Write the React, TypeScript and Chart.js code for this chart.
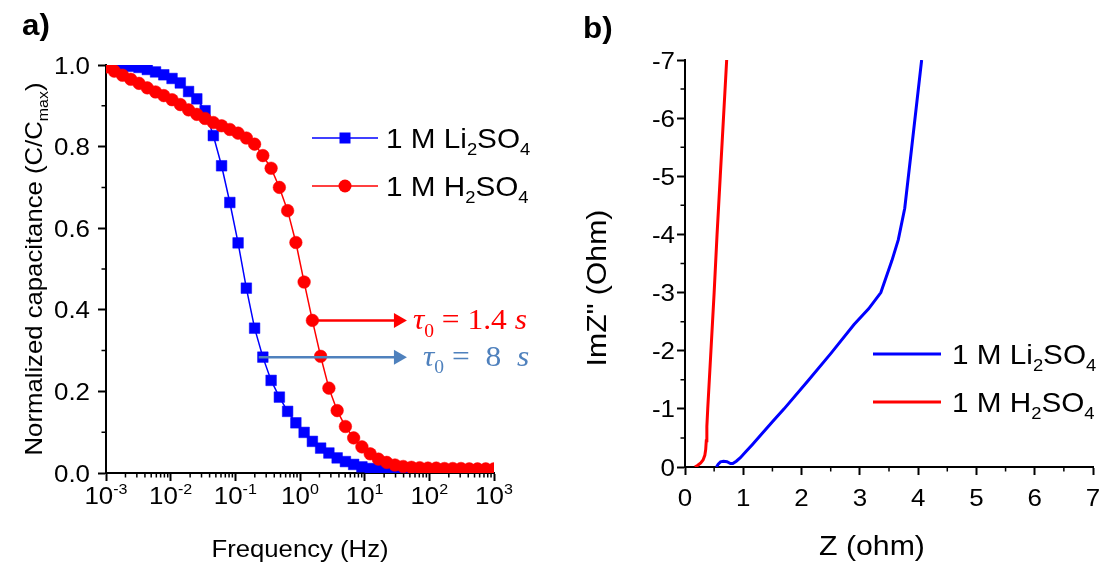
import React, { useEffect, useRef } from 'react';
import { Chart, registerables } from 'chart.js';

Chart.register(...registerables);

// ---------- Data (panel a) ----------
const freqHz = [0.001, 0.001342, 0.0018, 0.002415, 0.003241, 0.004348, 0.005834, 0.007828, 0.0105, 0.01409, 0.01891, 0.02537, 0.03404, 0.04567, 0.06128, 0.08222, 0.1103, 0.148, 0.1986, 0.2664, 0.3575, 0.4796, 0.6435, 0.8635, 1.158, 1.554, 2.085, 2.798, 3.754, 5.037, 6.758, 9.068, 12.17, 16.33, 21.9, 29.39, 39.43, 52.91, 70.99, 95.25, 127.8, 171.5, 230.1, 308.7, 414.2, 555.8, 745.7, 1000];
const capLi2SO4 = [1.0, 0.999, 0.998, 0.997, 0.994, 0.989, 0.983, 0.976, 0.967, 0.956, 0.935, 0.917, 0.888, 0.827, 0.753, 0.663, 0.564, 0.453, 0.355, 0.284, 0.227, 0.186, 0.151, 0.123, 0.0995, 0.0775, 0.061, 0.049, 0.037, 0.028, 0.021, 0.015, 0.011, 0.008, 0.006, 0.005, 0.004, 0.004, 0.003, 0.003, 0.003, 0.003, 0.003, 0.003, 0.003, 0.003, 0.003, 0.003];
const capH2SO4 = [0.995, 0.985, 0.975, 0.965, 0.955, 0.944, 0.934, 0.925, 0.915, 0.903, 0.89, 0.879, 0.869, 0.859, 0.851, 0.842, 0.833, 0.821, 0.806, 0.778, 0.747, 0.70, 0.643, 0.565, 0.468, 0.374, 0.286, 0.208, 0.153, 0.114, 0.086, 0.064, 0.047, 0.034, 0.026, 0.0196, 0.016, 0.014, 0.013, 0.012, 0.012, 0.011, 0.011, 0.011, 0.01, 0.01, 0.01, 0.01];
const freqDecades = [1e-3, 1e-2, 1e-1, 1e0, 1e1, 1e2, 1e3];
const freqDecadeExp = ['-3', '-2', '-1', '0', '1', '2', '3'];
const capTicks = [0, 0.2, 0.4, 0.6, 0.8, 1.0];
const capTickLabels = ['0.0', '0.2', '0.4', '0.6', '0.8', '1.0'];
const capMinor = [0.1, 0.3, 0.5, 0.7, 0.9];
// annotation anchors (data space)
const tauH = { fromF: 1.554, fromY: 0.374, toF: 45, textF: 55.8, text: ' = 1.4 ' };
const tauLi = { fromF: 0.23, fromY: 0.284, toF: 45, textF: 79.8, text: ' =  8  ' };

// ---------- Data (panel b) ----------
const reZLi = [0.54, 0.57, 0.61, 0.66, 0.72, 0.78, 0.82, 0.88, 0.95, 1.05, 1.15, 1.3, 1.5, 1.7, 2.1, 2.5, 2.9, 3.15, 3.36, 3.55, 3.66, 3.77, 3.89, 4.06];
const imZLi = [0, -0.05, -0.09, -0.1, -0.09, -0.06, -0.06, -0.1, -0.16, -0.27, -0.38, -0.55, -0.78, -1.0, -1.47, -1.95, -2.45, -2.72, -3.0, -3.55, -3.91, -4.45, -5.5, -7.0];
const reZH = [0.17, 0.22, 0.27, 0.31, 0.34, 0.355, 0.365, 0.375, 0.39, 0.445, 0.5, 0.55, 0.605, 0.66, 0.715];
const imZH = [0, -0.03, -0.07, -0.12, -0.2, -0.3, -0.45, -0.7, -1.0, -2.0, -3.0, -4.0, -5.0, -6.0, -7.0];
const zTicks = [0, 1, 2, 3, 4, 5, 6, 7];
const imTicks = [0, -1, -2, -3, -4, -5, -6, -7];
const zMinor = [0.5, 1.5, 2.5, 3.5, 4.5, 5.5, 6.5];
const imMinor = [-0.5, -1.5, -2.5, -3.5, -4.5, -5.5, -6.5];

const BLUE = '#0000FF';
const RED = '#FF0000';
const TAU_BLUE = '#4F81BD';
const SANS = '"Liberation Sans", Arial, sans-serif';
const SERIF = '"Liberation Serif", "DejaVu Serif", serif';
const STRETCH = 1.08;

type Seg = { t: string; sub?: boolean; sup?: boolean; italic?: boolean };
type RichOpts = { size: number; family?: string; bold?: boolean; color?: string; align?: 'left' | 'center' | 'right'; stretch?: number; rotate?: number };

function drawRich(ctx: CanvasRenderingContext2D, segs: Seg[], x: number, y: number, o: RichOpts) {
  const fam = o.family ?? SANS;
  const st = o.stretch ?? STRETCH;
  ctx.save();
  ctx.translate(x, y);
  if (o.rotate) ctx.rotate(o.rotate);
  ctx.scale(st, 1);
  ctx.textBaseline = 'alphabetic';
  ctx.textAlign = 'left';
  ctx.fillStyle = o.color ?? '#000';
  const parts = segs.map((s) => {
    const small = s.sub || s.sup;
    const sz = small ? o.size * 0.62 : o.size;
    const font = `${s.italic ? 'italic ' : ''}${o.bold ? 'bold ' : ''}${sz}px ${fam}`;
    ctx.font = font;
    return { s, font, w: ctx.measureText(s.t).width, dy: s.sub ? o.size * 0.24 : s.sup ? -o.size * 0.42 : 0 };
  });
  const total = parts.reduce((a, p) => a + p.w, 0);
  let cx = o.align === 'center' ? -total / 2 : o.align === 'right' ? -total : 0;
  for (const p of parts) {
    ctx.font = p.font;
    ctx.fillText(p.s.t, cx, p.dy);
    cx += p.w;
  }
  ctx.restore();
}

function drawArrow(ctx: CanvasRenderingContext2D, x0: number, x1: number, y: number, color: string) {
  ctx.save();
  ctx.strokeStyle = color;
  ctx.fillStyle = color;
  ctx.lineWidth = 2.5;
  ctx.beginPath();
  ctx.moveTo(x0, y);
  ctx.lineTo(x1 - 10, y);
  ctx.stroke();
  ctx.beginPath();
  ctx.moveTo(x1 - 13, y - 7.5);
  ctx.lineTo(x1, y);
  ctx.lineTo(x1 - 13, y + 7.5);
  ctx.closePath();
  ctx.fill();
  ctx.restore();
}

const TICK_FONT = 24;

const leftDecor = {
  id: 'leftDecor',
  afterDraw(chart: any) {
    const { ctx, chartArea: a, scales } = chart;
    const x = scales.x;
    const y = scales.y;
    ctx.save();
    ctx.strokeStyle = '#000';
    ctx.lineWidth = 1.5;
    ctx.beginPath();
    for (let i = 0; i < freqDecades.length - 1; i++) {
      for (let m = 2; m <= 9; m++) {
        const px = x.getPixelForValue(freqDecades[i] * m);
        ctx.moveTo(px, a.bottom);
        ctx.lineTo(px, a.bottom + 4.5);
      }
    }
    for (const v of capMinor) {
      const py = y.getPixelForValue(v);
      ctx.moveTo(a.left, py);
      ctx.lineTo(a.left - 4.5, py);
    }
    ctx.stroke();
    ctx.restore();

    capTicks.forEach((v, i) => {
      const py = y.getPixelForValue(v);
      drawRich(ctx, [{ t: capTickLabels[i] }], a.left - 16, py + TICK_FONT * 0.36, { size: TICK_FONT, align: 'right' });
    });
    freqDecades.forEach((v, i) => {
      const px = x.getPixelForValue(v);
      drawRich(ctx, [{ t: '10' }, { t: freqDecadeExp[i], sup: true }], px, a.bottom + 31, { size: TICK_FONT, align: 'center' });
    });
    drawRich(ctx, [{ t: 'Frequency (Hz)' }], (a.left + a.right) / 2, 557, { size: 23.8, align: 'center' });
    drawRich(ctx, [{ t: 'Normalized capacitance (C/C' }, { t: 'max', sub: true }, { t: ')' }], 42, (a.top + a.bottom) / 2, { size: 23.8, align: 'center', rotate: -Math.PI / 2 });
    drawRich(ctx, [{ t: 'a)' }], 22, 35, { size: 29, bold: true, align: 'left' });

    const legendRows = [
      { color: BLUE, marker: 'rect', y: 138, segs: [{ t: '1 M Li' }, { t: '2', sub: true }, { t: 'SO' }, { t: '4', sub: true }] },
      { color: RED, marker: 'circle', y: 186, segs: [{ t: '1 M H' }, { t: '2', sub: true }, { t: 'SO' }, { t: '4', sub: true }] },
    ];
    for (const r of legendRows) {
      ctx.save();
      ctx.strokeStyle = r.color;
      ctx.fillStyle = r.color;
      ctx.lineWidth = 1.5;
      ctx.beginPath();
      ctx.moveTo(312, r.y);
      ctx.lineTo(378, r.y);
      ctx.stroke();
      ctx.beginPath();
      if (r.marker === 'rect') ctx.rect(345 - 5.5, r.y - 5.5, 11, 11);
      else ctx.arc(345, r.y, 6.5, 0, Math.PI * 2);
      ctx.fill();
      ctx.restore();
      drawRich(ctx, r.segs as Seg[], 386, r.y + 10, { size: 27.5, align: 'left' });
    }

    const anns = [
      { a: tauH, color: RED },
      { a: tauLi, color: TAU_BLUE },
    ];
    for (const { a: t, color } of anns) {
      const x0 = x.getPixelForValue(t.fromF);
      const x1 = x.getPixelForValue(t.toF);
      const py = y.getPixelForValue(t.fromY);
      drawArrow(ctx, x0, x1, py, color);
      drawRich(
        ctx,
        [{ t: 'τ', italic: true }, { t: '0', sub: true }, { t: t.text }, { t: 's', italic: true }],
        x.getPixelForValue(t.textF),
        py + 9,
        { size: 30, family: SERIF, color, align: 'left', stretch: 1.05 }
      );
    }
  },
};

const rightDecor = {
  id: 'rightDecor',
  afterDraw(chart: any) {
    const { ctx, chartArea: a, scales } = chart;
    const x = scales.x;
    const y = scales.y;
    ctx.save();
    ctx.strokeStyle = '#000';
    ctx.lineWidth = 1.5;
    ctx.beginPath();
    for (const v of zMinor) {
      const px = x.getPixelForValue(v);
      ctx.moveTo(px, a.bottom);
      ctx.lineTo(px, a.bottom + 4.5);
    }
    for (const v of imMinor) {
      const py = y.getPixelForValue(v);
      ctx.moveTo(a.left, py);
      ctx.lineTo(a.left - 4.5, py);
    }
    ctx.stroke();
    ctx.restore();

    imTicks.forEach((v) => {
      const py = y.getPixelForValue(v);
      drawRich(ctx, [{ t: String(v) }], a.left - 10, py + TICK_FONT * 0.36, { size: TICK_FONT, align: 'right' });
    });
    zTicks.forEach((v) => {
      const px = x.getPixelForValue(v);
      drawRich(ctx, [{ t: String(v) }], px, a.bottom + 39, { size: TICK_FONT, align: 'center' });
    });
    drawRich(ctx, [{ t: 'Z (ohm)' }], 312, 555, { size: 28, align: 'center' });
    drawRich(ctx, [{ t: 'ImZ" (Ohm)' }], 46, 288, { size: 28, align: 'center', rotate: -Math.PI / 2 });
    drawRich(ctx, [{ t: 'b)' }], 23, 38, { size: 29, bold: true, align: 'left' });

    const legendRows = [
      { color: BLUE, y: 354, segs: [{ t: '1 M Li' }, { t: '2', sub: true }, { t: 'SO' }, { t: '4', sub: true }] },
      { color: RED, y: 402, segs: [{ t: '1 M H' }, { t: '2', sub: true }, { t: 'SO' }, { t: '4', sub: true }] },
    ];
    for (const r of legendRows) {
      ctx.save();
      ctx.strokeStyle = r.color;
      ctx.lineWidth = 3;
      ctx.beginPath();
      ctx.moveTo(313, r.y);
      ctx.lineTo(381, r.y);
      ctx.stroke();
      ctx.restore();
      drawRich(ctx, r.segs as Seg[], 392, r.y + 10, { size: 27.5, align: 'left' });
    }
  },
};

const axisCommon = {
  grid: { display: true, drawOnChartArea: false, drawTicks: true, tickLength: 8, tickWidth: 2, tickColor: '#000' },
  border: { display: true, color: '#000', width: 2 },
};

export default function App() {
  const leftRef = useRef<HTMLCanvasElement>(null);
  const rightRef = useRef<HTMLCanvasElement>(null);

  useEffect(() => {
    const left = new Chart(leftRef.current!, {
      type: 'line',
      data: {
        datasets: [
          {
            label: '1 M H2SO4',
            data: freqHz.map((f, i) => ({ x: f, y: capH2SO4[i] })),
            borderColor: RED,
            backgroundColor: RED,
            pointBackgroundColor: RED,
            pointBorderColor: RED,
            borderWidth: 1.5,
            pointStyle: 'circle',
            pointRadius: 6.3,
            pointBorderWidth: 0.5,
            tension: 0,
            clip: 0,
            order: 0,
          } as any,
          {
            label: '1 M Li2SO4',
            data: freqHz.map((f, i) => ({ x: f, y: capLi2SO4[i] })),
            borderColor: BLUE,
            backgroundColor: BLUE,
            pointBackgroundColor: BLUE,
            pointBorderColor: BLUE,
            borderWidth: 1.5,
            pointStyle: 'rect',
            pointRadius: 7.5,
            pointBorderWidth: 0.5,
            tension: 0,
            clip: 0,
            order: 1,
          } as any,
        ],
      },
      options: {
        responsive: false,
        animation: false,
        events: [],
        layout: { padding: { left: 0, top: 65, right: 66, bottom: 0 } },
        plugins: { legend: { display: false }, tooltip: { enabled: false } },
        scales: {
          x: {
            type: 'logarithmic',
            min: 1e-3,
            max: 1e3,
            afterBuildTicks: (s: any) => {
              s.ticks = freqDecades.map((v) => ({ value: v }));
            },
            afterFit: (s: any) => {
              s.height = 94;
            },
            ticks: { display: false },
            ...axisCommon,
          },
          y: {
            type: 'linear',
            min: 0,
            max: 1,
            afterBuildTicks: (s: any) => {
              s.ticks = capTicks.map((v) => ({ value: v }));
            },
            afterFit: (s: any) => {
              s.width = 106;
            },
            ticks: { display: false },
            ...axisCommon,
          },
        },
      } as any,
      plugins: [leftDecor],
    });

    const right = new Chart(rightRef.current!, {
      type: 'line',
      data: {
        datasets: [
          {
            label: '1 M Li2SO4',
            data: reZLi.map((v, i) => ({ x: v, y: imZLi[i] })),
            borderColor: BLUE,
            borderWidth: 3,
            pointRadius: 0,
            tension: 0,
          },
          {
            label: '1 M H2SO4',
            data: reZH.map((v, i) => ({ x: v, y: imZH[i] })),
            borderColor: RED,
            borderWidth: 3,
            pointRadius: 0,
            tension: 0,
          },
        ],
      },
      options: {
        responsive: false,
        animation: false,
        events: [],
        layout: { padding: { left: 0, top: 60, right: 14, bottom: 0 } },
        plugins: { legend: { display: false }, tooltip: { enabled: false } },
        scales: {
          x: {
            type: 'linear',
            min: 0,
            max: 7,
            afterBuildTicks: (s: any) => {
              s.ticks = zTicks.map((v) => ({ value: v }));
            },
            afterFit: (s: any) => {
              s.height = 100;
            },
            ticks: { display: false },
            ...axisCommon,
          },
          y: {
            type: 'linear',
            min: -7,
            max: 0,
            reverse: true,
            afterBuildTicks: (s: any) => {
              s.ticks = imTicks.map((v) => ({ value: v }));
            },
            afterFit: (s: any) => {
              s.width = 125;
            },
            ticks: { display: false },
            ...axisCommon,
          },
        },
      } as any,
      plugins: [rightDecor],
    });

    return () => {
      left.destroy();
      right.destroy();
    };
  }, []);

  return (
    <div style={{ position: 'fixed', left: 0, top: 0, width: 1107, height: 567, background: '#fff' }}>
      <canvas ref={leftRef} width={560} height={567} style={{ position: 'absolute', left: 0, top: 0 }} />
      <canvas ref={rightRef} width={547} height={567} style={{ position: 'absolute', left: 560, top: 0 }} />
    </div>
  );
}
